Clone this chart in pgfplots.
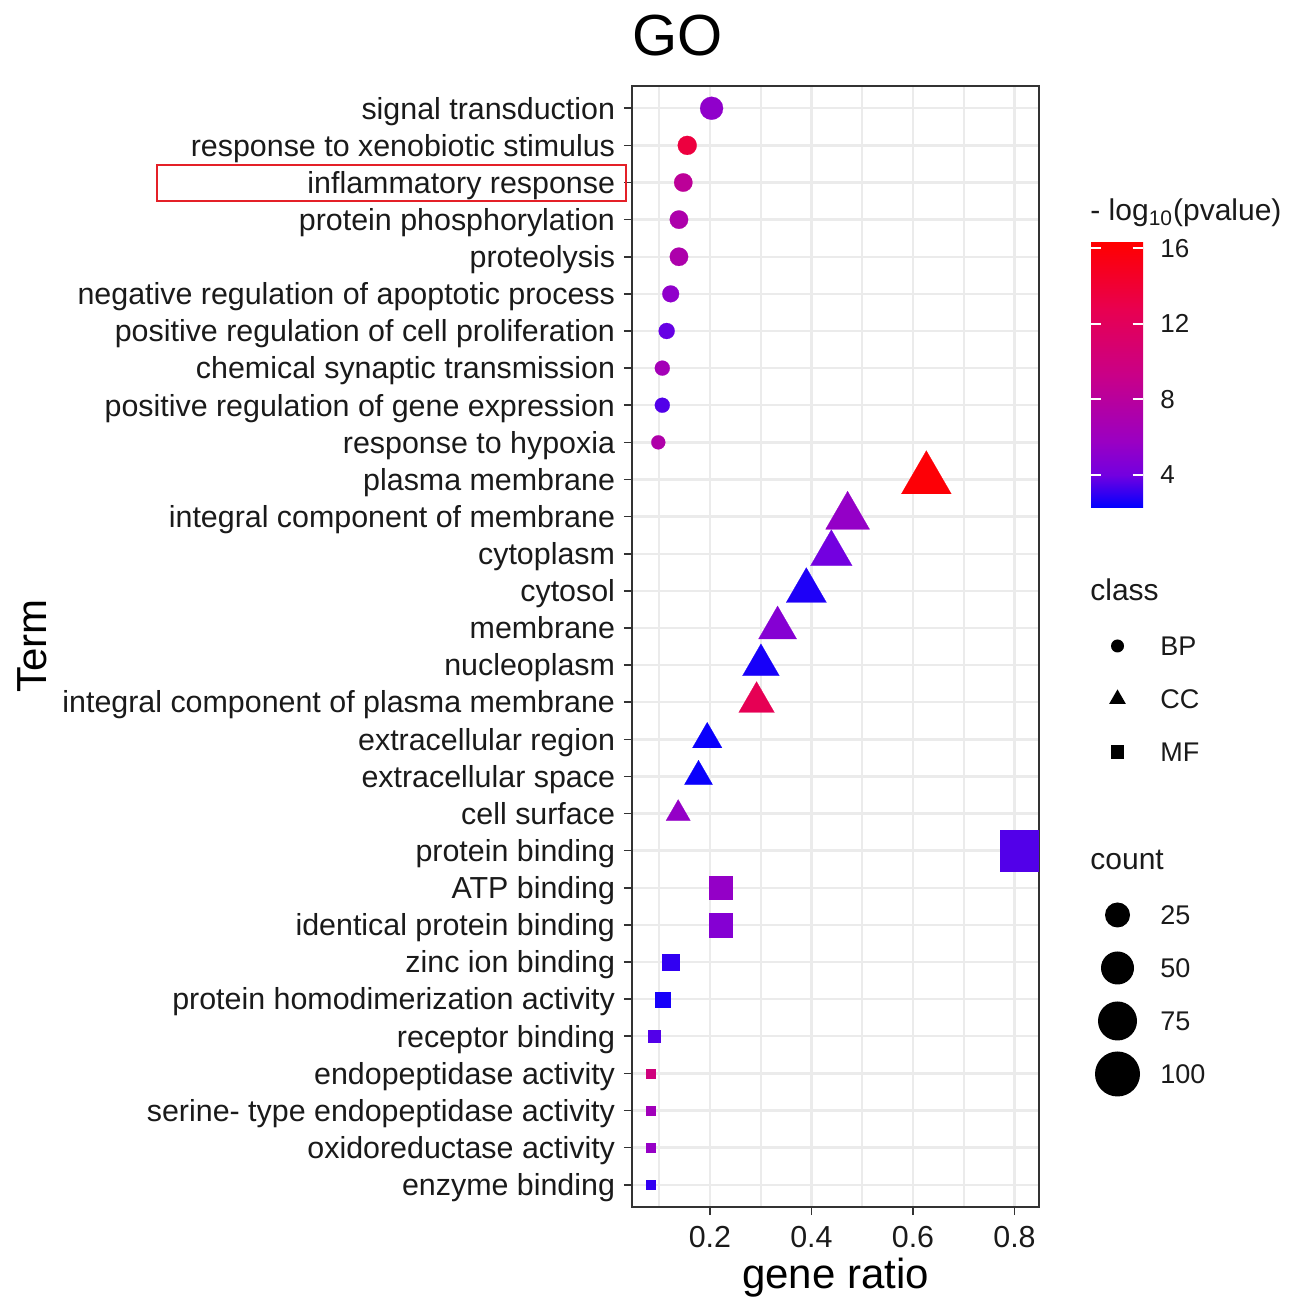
\documentclass[border=0pt]{standalone}
\usepackage{pgfplots}
\pgfplotsset{compat=1.18}
\usepackage{pgfplotstable}
\usepackage{fontspec}
\setmainfont{Liberation Sans}
\pgfplotsset{colormap={gg}{rgb255(0cm)=(0,0,255); rgb255(1cm)=(115,0,224); rgb255(2cm)=(154,0,195); rgb255(4cm)=(201,0,136); rgb255(6cm)=(232,0,80); rgb255(8cm)=(255,0,0)}}
\pgfdeclareverticalshading{ggbar}{100bp}{rgb(0bp)=(0,0,1); rgb(25bp)=(0,0,1); rgb(31.25bp)=(0.451,0,0.878); rgb(37.5bp)=(0.604,0,0.765); rgb(50bp)=(0.788,0,0.533); rgb(62.5bp)=(0.910,0,0.314); rgb(75bp)=(1,0,0); rgb(100bp)=(1,0,0)}
\definecolor{gridc}{HTML}{EBEBEB}
\definecolor{axc}{HTML}{333333}
\definecolor{txc}{HTML}{1A1A1A}
\definecolor{boxred}{RGB}{228,32,40}

% BP: x = gene ratio, y = row, p = -log10(pvalue), s = marker size (pt)
\pgfplotstableread{
x y p s
0.2033 1 5.3 5.75
0.1553 2 13.5 4.75
0.1475 3 8.3 4.6
0.1390 4 7.2 4.6
0.1390 5 7.2 4.6
0.1227 6 5.3 4.2
0.1148 7 3.8 4.0
0.1062 8 6.5 3.75
0.1062 9 3.5 3.75
0.0983 10 7.3 3.5
}\bpdata
% CC
\pgfplotstableread{
x y p s
0.6263 11 16.0 14.4
0.4712 12 5.5 12.7
0.4392 13 4.0 12.0
0.3899 14 2.7 11.6
0.3333 15 4.8 11.0
0.3005 16 2.6 10.6
0.2919 17 12.5 10.3
0.1947 18 2.4 8.5
0.1775 19 2.4 8.1
0.1375 20 5.5 7.0
}\ccdata
% MF
\pgfplotstableread{
x y p s
0.8120 21 3.5 10.25
0.2210 22 5.5 5.85
0.2210 23 4.8 5.85
0.1233 24 3.0 4.2
0.1060 25 2.6 3.75
0.0900 26 3.5 3.0
0.0823 27 10.0 2.25
0.0823 28 6.3 2.25
0.0823 29 5.6 2.25
0.0823 30 3.0 2.25
}\mfdata

\pgfplotsset{bubble/.style={scatter, only marks, point meta=explicit,
  scatter/use mapped color={draw=mapped color, fill=mapped color},
  mark options={line width=0.1pt},
  visualization depends on={\thisrow{s} \as \msz},
  scatter/@pre marker code/.append style={/tikz/mark size=\msz}}}

\begin{document}
\begin{tikzpicture}
\useasboundingbox (-316pt,-46.5pt) rectangle (330.5pt,603.5pt);
\begin{axis}[
  at={(0pt,0pt)}, anchor=south west,
  scale only axis, width=203.5pt, height=560.5pt,
  xmin=0.0465, xmax=0.8482, ymin=0.4, ymax=30.6, y dir=reverse,
  xtick={0.2,0.4,0.6,0.8}, minor xtick={0.1,0.3,0.5,0.7},
  xticklabels={0.2,0.4,0.6,0.8},
  ytick={1,...,30},
  yticklabels={signal transduction, response to xenobiotic stimulus, inflammatory response, protein phosphorylation, proteolysis, negative regulation of apoptotic process, positive regulation of cell proliferation, chemical synaptic transmission, positive regulation of gene expression, response to hypoxia, plasma membrane, integral component of membrane, cytoplasm, cytosol, membrane, nucleoplasm, integral component of plasma membrane, extracellular region, extracellular space, cell surface, protein binding, ATP binding, identical protein binding, zinc ion binding, protein homodimerization activity, receptor binding, endopeptidase activity, serine- type endopeptidase activity, oxidoreductase activity, enzyme binding},
  grid=both,
  major grid style={gridc, line width=1.2pt},
  minor grid style={gridc, line width=0.9pt},
  axis line style={axc, line width=1pt},
  tick align=outside, major tick length=4pt, minor tick length=0pt,
  tick style={axc, line width=0.8pt},
  xtick pos=left, ytick pos=left,
  ticklabel style={font=\fontsize{15.2}{18}\selectfont, text=txc, inner sep=0pt},
  yticklabel style={anchor=base east, xshift=-4.3pt, yshift=-5.4pt},
  xticklabel style={anchor=north, yshift=-5.5pt},
  clip marker paths=true,
  colormap name=gg, point meta min=2.25, point meta max=16.28,
]
\addplot[bubble, mark=*] table[x=x, y=y, meta=p] {\bpdata};
\addplot[bubble, mark=triangle*] table[x=x, y=y, meta=p] {\ccdata};
\addplot[bubble, mark=square*] table[x=x, y=y, meta=p] {\mfdata};
\end{axis}

% title and axis titles
\node[anchor=base west, inner sep=0pt, font=\fontsize{29}{34}\selectfont] at (0pt,575.5pt) {GO};
\node[anchor=base, inner sep=0pt, font=\fontsize{21}{25}\selectfont] at (101.75pt,-41pt) {gene ratio};
\node[anchor=base, rotate=90, inner sep=0pt, font=\fontsize{21}{25}\selectfont] at (-292.5pt,280.5pt) {Term};

% highlight box
\draw[boxred, line width=1.2pt] (-237.5pt,503pt) rectangle (-3pt,521pt);

% colour legend (colour bar for the mapping used above: 2.25 .. 16.28)
\node[anchor=base west, inner sep=0pt, font=\fontsize{15}{18}\selectfont, text=txc] at (229pt,493pt) {- log\textsubscript{10}(pvalue)};
\shade[shading=ggbar] (229.5pt,349.5pt) rectangle (255.5pt,482pt);
\foreach \v/\yy in {4/366.0, 8/403.8, 12/441.6, 16/479.4}{
  \draw[white, line width=1pt] (229.5pt,\yy pt) -- (234.7pt,\yy pt);
  \draw[white, line width=1pt] (250.3pt,\yy pt) -- (255.5pt,\yy pt);
  \node[anchor=west, inner sep=0pt, font=\fontsize{13}{15}\selectfont, text=txc] at (264pt,\yy pt) {\v};
}

% class legend
\node[anchor=base west, inner sep=0pt, font=\fontsize{15}{18}\selectfont, text=txc] at (229pt,303pt) {class};
\fill (242.75pt,280.5pt) circle (3.25pt);
\fill (242.75pt,258.8pt) -- (238.6pt,251.6pt) -- (246.9pt,251.6pt) -- cycle;
\fill (239.45pt,224.2pt) rectangle (246.05pt,230.8pt);
\node[anchor=west, inner sep=0pt, font=\fontsize{13.5}{16}\selectfont, text=txc] at (264pt,280.5pt) {BP};
\node[anchor=west, inner sep=0pt, font=\fontsize{13.5}{16}\selectfont, text=txc] at (264pt,254pt) {CC};
\node[anchor=west, inner sep=0pt, font=\fontsize{13.5}{16}\selectfont, text=txc] at (264pt,227.5pt) {MF};

% count legend
\node[anchor=base west, inner sep=0pt, font=\fontsize{15}{18}\selectfont, text=txc] at (229pt,168.5pt) {count};
\fill (242.75pt,146pt) circle (6.25pt);
\fill (242.75pt,119.5pt) circle (8.25pt);
\fill (242.75pt,93pt) circle (9.75pt);
\fill (242.75pt,66.5pt) circle (11.25pt);
\node[anchor=west, inner sep=0pt, font=\fontsize{13.5}{16}\selectfont, text=txc] at (264pt,146pt) {25};
\node[anchor=west, inner sep=0pt, font=\fontsize{13.5}{16}\selectfont, text=txc] at (264pt,119.5pt) {50};
\node[anchor=west, inner sep=0pt, font=\fontsize{13.5}{16}\selectfont, text=txc] at (264pt,93pt) {75};
\node[anchor=west, inner sep=0pt, font=\fontsize{13.5}{16}\selectfont, text=txc] at (264pt,66.5pt) {100};
\end{tikzpicture}
\end{document}
